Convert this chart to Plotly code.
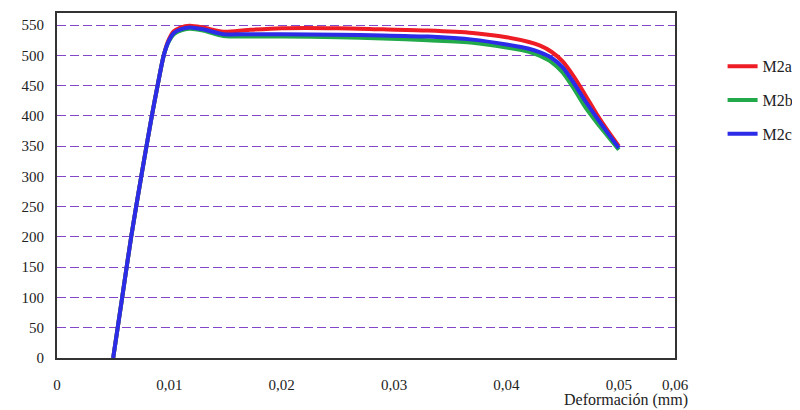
import plotly.graph_objects as go

# Data (strain, stress)
strain_a = [0.0050, 0.0058, 0.0066, 0.0075, 0.00844, 0.00895, 0.0095, 0.0099, 0.0104, 0.0110, 0.0118,
            0.0130, 0.0148, 0.0170, 0.0200, 0.0250, 0.0290, 0.0330, 0.0370, 0.0400, 0.0420, 0.0430,
            0.0440, 0.0450, 0.0460, 0.0470, 0.0480, 0.0490, 0.0500]
stress_a = [0, 100, 200, 300, 400, 450, 500, 524, 540, 546, 549,
            546, 539, 542, 545, 545, 543, 541, 537, 530, 522, 516,
            506, 490, 465, 435, 404, 376, 350]

strain_b = [0.0050, 0.0058, 0.0066, 0.0075, 0.00844, 0.00895, 0.0095, 0.0099, 0.0104, 0.0110, 0.0118,
            0.0130, 0.0148, 0.0170, 0.0200, 0.0250, 0.0290, 0.0330, 0.0370, 0.0400, 0.0420, 0.0430,
            0.0440, 0.0450, 0.0460, 0.0470, 0.0480, 0.0490, 0.0500]
stress_b = [0, 100, 200, 300, 400, 450, 500, 521, 535, 541, 544,
            541, 532, 531, 531, 530, 528, 525, 521, 513, 506, 499,
            489, 472, 445, 415, 390, 367, 344]

strain_c = [0.0050, 0.0058, 0.0066, 0.0075, 0.00844, 0.00895, 0.0095, 0.0099, 0.0104, 0.0110, 0.0118,
            0.0130, 0.0148, 0.0170, 0.0200, 0.0250, 0.0290, 0.0330, 0.0370, 0.0400, 0.0420, 0.0430,
            0.0440, 0.0450, 0.0460, 0.0470, 0.0480, 0.0490, 0.0500]
stress_c = [0, 100, 200, 300, 400, 450, 500, 522, 537, 543, 546,
            543, 535, 535, 535, 534, 533, 531, 526, 518, 511, 505,
            496, 480, 454, 425, 398, 372, 347]

series_names = ["M2a", "M2b", "M2c"]
series_colors = ["#EE1C25", "#22AA4A", "#2B2BE8"]

x_tick_vals = [0, 0.01, 0.02, 0.03, 0.04, 0.05, 0.055]
x_tick_text = ["0", "0,01", "0,02", "0,03", "0,04", "0,05", "0,06"]
y_tick_vals = [0, 50, 100, 150, 200, 250, 300, 350, 400, 450, 500, 550]

FONT = "Times New Roman, Liberation Serif, serif"

fig = go.Figure()
for i, (xs, ys) in enumerate([(strain_a, stress_a), (strain_b, stress_b), (strain_c, stress_c)]):
    fig.add_trace(go.Scatter(
        x=xs, y=ys, mode="lines", name=series_names[i],
        line=dict(color=series_colors[i], width=4, shape="spline", smoothing=0.8),
        legendgroup=series_names[i],
    ))

# the page body adds an 8px offset, so the figure is 792x402
fig.update_layout(
    width=792, height=402,
    margin=dict(l=49, r=125, t=5, b=52, autoexpand=False),
    paper_bgcolor="white", plot_bgcolor="white",
    font=dict(family=FONT, size=14, color="#222"),
    showlegend=True,
    legend=dict(
        x=1.077, y=0.895, xanchor="left", yanchor="top",
        font=dict(family=FONT, size=16, color="#222"),
        traceorder="grouped", tracegroupgap=10,
        bgcolor="rgba(0,0,0,0)", itemwidth=30,
    ),
    xaxis=dict(
        range=[0, 0.055], tickvals=x_tick_vals, ticktext=x_tick_text,
        showgrid=False, zeroline=False, ticks="", automargin=False,
        showline=True, linecolor="#333", linewidth=2, mirror=True,
        ticklabelstandoff=12,
        tickfont=dict(family=FONT, size=15, color="#222"),
    ),
    yaxis=dict(
        range=[0, 570], tickvals=y_tick_vals, automargin=False,
        showgrid=True, gridcolor="#8446C8", griddash="9px,4px", gridwidth=1,
        zeroline=False, ticks="",
        showline=True, linecolor="#333", linewidth=2, mirror=True,
        ticklabelstandoff=8,
        tickfont=dict(family=FONT, size=15, color="#222"),
    ),
    annotations=[dict(
        text="Deformación (mm)", xref="paper", yref="paper",
        x=(690 - 57) / 618, y=-(400 - 358) / 345, xanchor="right", yanchor="middle",
        showarrow=False, font=dict(family=FONT, size=16, color="#222"),
    )],
)

fig.write_html("out.html")
